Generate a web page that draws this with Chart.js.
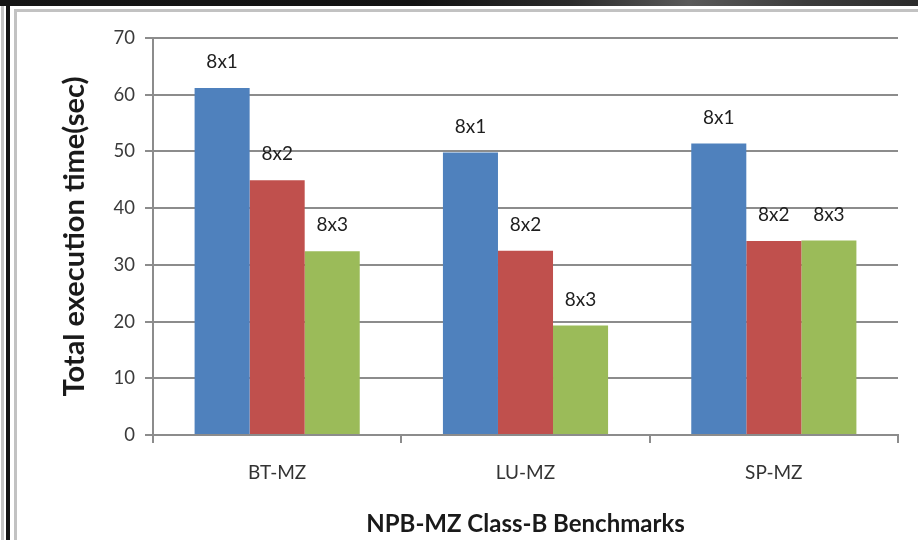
<!DOCTYPE html>
<html>
<head>
<meta charset="utf-8">
<script src="https://cdn.jsdelivr.net/npm/chart.js@4/dist/chart.umd.min.js"></script>
<style>
  html, body { margin: 0; padding: 0; background: #ffffff; }
  #stage { position: relative; width: 918px; height: 540px; overflow: hidden; background: #fff; }
  .topband { position: absolute; left: 0; top: 0; width: 918px; height: 6px;
    background: linear-gradient(to right, #151515 0%, #111 45%, #2a2a2a 62%, #5a5a5a 75%, #3a3a3a 88%, #2b2b2b 100%); }
  .edge1 { position: absolute; left: 1px; top: 6px; width: 3px; height: 534px; background: #c4c4c4; }
  .edge2 { position: absolute; left: 6px; top: 6px; width: 4px; height: 534px; background: #141414; }
  .panel { position: absolute; left: 14px; top: 9px; width: 920px; height: 540px;
    border-left: 3px solid #c2c2c2; border-top: 3px solid #c2c2c2; box-sizing: border-box; background: #fff; }
  #wrap { position: absolute; left: 0; top: 0; width: 918px; height: 540px; }
</style>
</head>
<body>
<div id="stage">
  <div class="topband"></div>
  <div class="edge1"></div>
  <div class="edge2"></div>
  <div class="panel"></div>
  <div id="wrap"><canvas id="chart" width="918" height="540"></canvas></div>
</div>
<script>
// Benchmarks and per-configuration execution times (seconds)
const categories = ['BT-MZ', 'LU-MZ', 'SP-MZ'];
const seriesNames = ['8x1', '8x2', '8x3'];
const times8x1 = [61.2, 49.8, 51.4];
const times8x2 = [44.9, 32.5, 34.2];
const times8x3 = [32.4, 19.3, 34.3];
const yTicks = [0, 10, 20, 30, 40, 50, 60, 70];

const colors = ['#4F81BD', '#C0504D', '#9BBB59'];
const fontFamily = 'Lato, "Open Sans", sans-serif';

// Writes the series name above each bar
const barNamePlugin = {
  id: 'barNames',
  afterDatasetsDraw(chart) {
    const ctx = chart.ctx;
    ctx.save();
    ctx.font = '19px ' + fontFamily;
    ctx.fillStyle = '#1e1e1e';
    ctx.textAlign = 'center';
    ctx.textBaseline = 'middle';
    chart.data.datasets.forEach((ds, i) => {
      chart.getDatasetMeta(i).data.forEach(bar => {
        ctx.fillText(ds.label, bar.x, bar.y - 26);
      });
    });
    ctx.restore();
  }
};

new Chart(document.getElementById('chart'), {
  type: 'bar',
  data: {
    labels: categories,
    datasets: [times8x1, times8x2, times8x3].map((vals, i) => ({
      label: seriesNames[i],
      data: vals,
      backgroundColor: colors[i],
      borderWidth: 0,
      barPercentage: 1.0,
      categoryPercentage: 0.665
    }))
  },
  options: {
    responsive: false,
    animation: false,
    devicePixelRatio: 1,
    layout: { padding: { top: 38, right: 20, left: 0, bottom: 0 } },
    plugins: {
      legend: { display: false },
      tooltip: { enabled: false },
      title: { display: false }
    },
    scales: {
      x: {
        grid: {
          display: true,
          drawOnChartArea: false,
          drawTicks: true,
          tickLength: 8,
          color: '#8c8c8c',
          lineWidth: 2
        },
        border: { display: true, color: '#8c8c8c', width: 2 },
        ticks: {
          color: '#333333',
          font: { family: fontFamily, size: 19 },
          padding: 18
        },
        title: {
          display: true,
          text: 'NPB-MZ Class-B Benchmarks',
          color: '#1a1a1a',
          font: { family: fontFamily, size: 24, weight: 'bold' },
          padding: { top: 0, bottom: 1 }
        },
        afterFit(scale) { scale.height = 105; }
      },
      y: {
        min: 0,
        max: 70,
        afterBuildTicks(scale) { scale.ticks = yTicks.map(v => ({ value: v })); },
        grid: {
          color: '#8c8c8c',
          lineWidth: 2,
          drawTicks: true,
          tickLength: 8
        },
        border: { display: true, color: '#8c8c8c', width: 2 },
        ticks: {
          color: '#3a3a3a',
          font: { family: fontFamily, size: 18.5 },
          padding: 10
        },
        title: {
          display: true,
          text: 'Total execution time(sec)',
          color: '#1a1a1a',
          font: { family: fontFamily, size: 29, weight: 'bold' },
          padding: { top: 57, bottom: 0 }
        },
        afterFit(scale) { scale.width = 153; }
      }
    }
  },
  plugins: [barNamePlugin]
});
</script>
</body>
</html>
